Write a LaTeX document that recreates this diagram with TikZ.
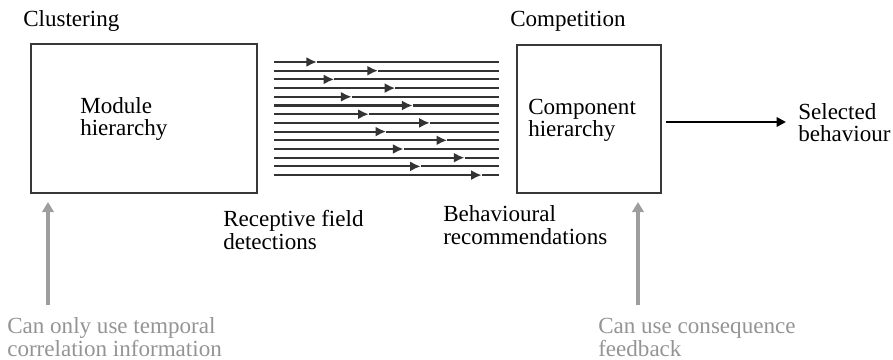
\documentclass[tikz,border=0pt]{standalone}
\usepackage{fontspec}
\setmainfont{Liberation Serif}
\usetikzlibrary{arrows.meta}

\tikzset{
  box/.style={draw=black!78, line width=1.3pt, inner sep=0pt},
  txt/.style={anchor=base west, inner sep=0pt, align=left,
    font=\fontsize{17.3}{17}\selectfont},
  note/.style={txt, text=black!42},
  fibre/.style={draw=black!80, line width=1.6pt},
  flow/.style={draw=black, line width=2.2pt, -{Triangle[length=7pt,width=7pt]}},
  hint/.style={draw=black!38, line width=2.8pt, -{Triangle[length=7.5pt,width=8.5pt]}},
}

\begin{document}
\begin{tikzpicture}[x=0.75pt,y=-0.75pt]
	\useasboundingbox (0,0) rectangle (893,360);
	% the two stages
	\node[box, minimum width=169.5pt, minimum height=111.75pt] (module) at (144,118.5) {};
	\node[box, minimum width=108pt, minimum height=111pt] (component) at (589,119) {};
	\node[txt] (clustering) at (23,27) {Clustering};
	\node[txt] (competition) at (510,27) {Competition};
	\node[txt] (modtext) at (80,136) {Module\\hierarchy};
	\node[txt] (comptext) at (528,137) {Component\\hierarchy};
	\node[txt] (selected) at (798,142) {Selected\\behaviour};
	\draw[flow] ([xshift=3pt]component.east |- 0,122) -- ([xshift=-9pt]selected.west |- 0,122);
	% bundle of detections feeding the competition
	\foreach \i in {0,...,13} {
		\pgfmathsetmacro{\yy}{62+8.7*\i}
		\pgfmathsetmacro{\xx}{317+61*mod(\i,2)+17.3*floor(\i/2)}
		\draw[fibre,-{Latex[length=8pt,width=7.5pt]}] (274,\yy) -- (\xx,\yy);
		\draw[fibre] (\xx,\yy) -- (499,\yy);
	}
	\node[txt] (receptive) at (223,249) {Receptive field\\detections};
	\node[txt] (recommend) at (443,244) {Behavioural\\recommendations};
	% what each stage can learn from
	\node[note] (temporal) at (7,356) {Can only use temporal\\correlation information};
	\node[note] (feedback) at (598,356) {Can use consequence\\feedback};
	\coordinate (tfoot) at (48,305);
	\coordinate (ffoot) at (638,305);
	\draw[hint] (tfoot) -- (tfoot |- 0,202);
	\draw[hint] (ffoot) -- (ffoot |- 0,202);
\end{tikzpicture}
\end{document}
